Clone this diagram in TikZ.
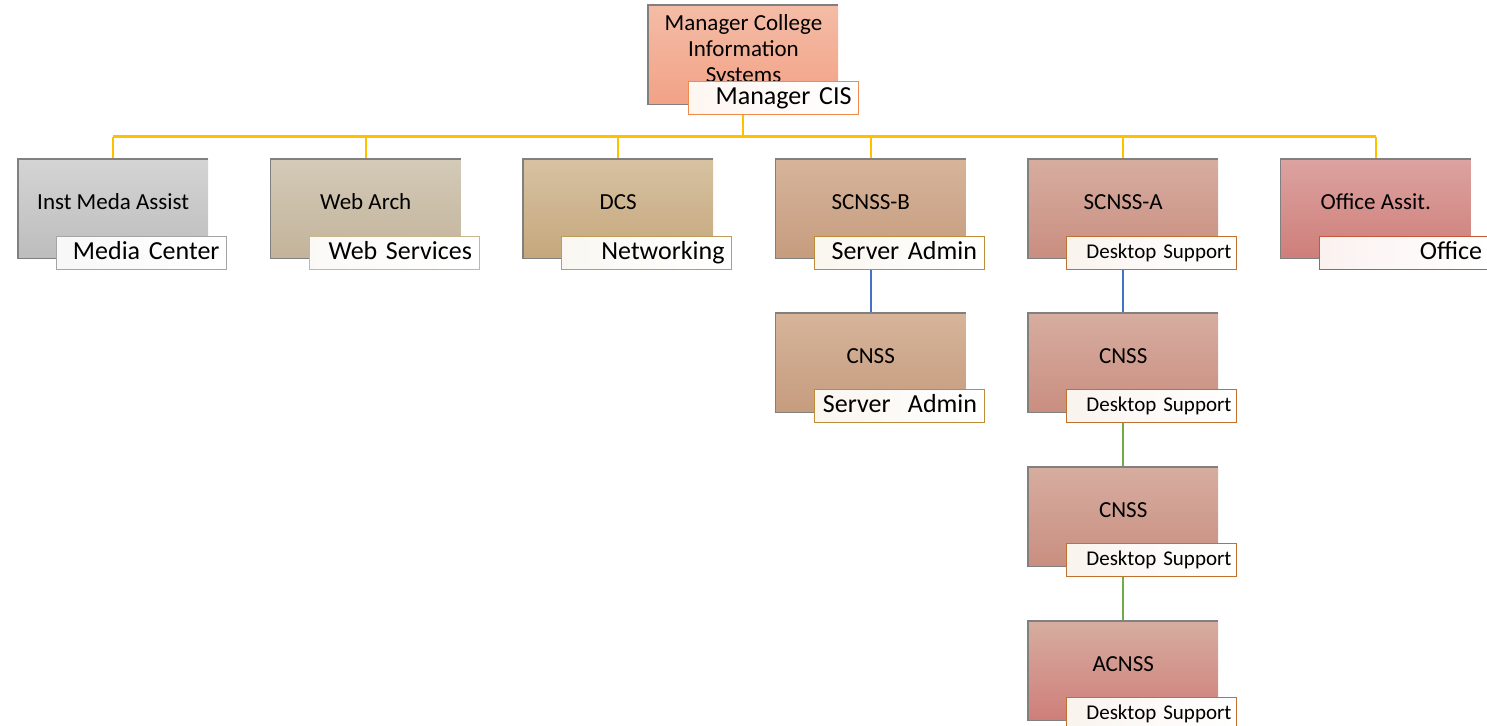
\documentclass[tikz,border=0pt]{standalone}
\usepackage{fontspec}
\setmainfont{Carlito}
\usetikzlibrary{backgrounds}

% box fills (top / bottom of the vertical shading)
\definecolor{instT}{HTML}{D4D4D4}\definecolor{instB}{HTML}{BDBDBD}
\definecolor{webT}{HTML}{D3CAB8}\definecolor{webB}{HTML}{C3B39A}
\definecolor{dcsT}{HTML}{D6C2A2}\definecolor{dcsB}{HTML}{C6A77C}
\definecolor{srvT}{HTML}{D6B49A}\definecolor{srvB}{HTML}{C69C7E}
\definecolor{dskT}{HTML}{D6ADA0}\definecolor{dskB}{HTML}{C98E80}
\definecolor{offT}{HTML}{DCA3A0}\definecolor{offB}{HTML}{CF7E7A}
\definecolor{mgrT}{HTML}{F4BCA6}\definecolor{mgrB}{HTML}{F2A286}
% tag borders
\definecolor{tagGray}{HTML}{A5A5A5}
\definecolor{tagWeb}{HTML}{C9B78F}
\definecolor{tagNet}{HTML}{BC9E5A}
\definecolor{tagSrv}{HTML}{BE8B38}
\definecolor{tagDsk}{HTML}{C0702F}
\definecolor{tagOff}{HTML}{C4583A}
\definecolor{tagMgr}{HTML}{F28A4C}
% connectors
\definecolor{busYellow}{HTML}{FFC000}
\definecolor{linkBlue}{HTML}{4472C4}
\definecolor{linkGreen}{HTML}{70AD47}
\definecolor{edgeGray}{HTML}{808080}

\tikzset{
  orgbox/.style 2 args={rectangle, anchor=north west, minimum width=190pt,
    minimum height=99pt, inner sep=0pt, top color=#1, bottom color=#2,
    font=\fontsize{23}{27}\selectfont, text height=16pt, text depth=14pt},
  tagbox/.style={rectangle, anchor=north west, minimum width=170pt,
    minimum height=33pt, inner xsep=7pt, inner ysep=0pt, text width=156pt,
    align=right, draw=#1, line width=1pt, left color=white!92!#1, right color=white,
    font=\fontsize{26}{30}\selectfont, text height=18pt, text depth=5pt},
  smalltag/.style={tagbox=#1, inner xsep=5pt, text width=160pt,
    font=\fontsize{21}{25}\selectfont, text height=15pt, text depth=5pt},
  boxedge/.style={draw=edgeGray, line width=1.3pt},
  bus/.style={draw=busYellow, line width=2.2pt},
  bluelink/.style={draw=linkBlue, line width=2pt},
  greenlink/.style={draw=linkGreen, line width=2pt},
}

\begin{document}
\begin{tikzpicture}[x=1pt,y=-1pt]
\useasboundingbox (0,0) rectangle (1487,725);

% boxes
\node[orgbox={mgrT}{mgrB}] (top) at (648,5) {};
\node[align=center, font=\fontsize{23}{26}\selectfont, inner sep=0pt, anchor=base]
  (toptext) at (743.5,82) {Manager College\\Information\\Systems};

\node[orgbox={instT}{instB}] (b1) at (18,159) {Inst Meda Assist};
\node[orgbox={webT}{webB}]   (b2) at (270.5,159) {Web Arch};
\node[orgbox={dcsT}{dcsB}]   (b3) at (523,159) {DCS};
\node[orgbox={srvT}{srvB}]   (b4) at (775.5,159) {SCNSS-B};
\node[orgbox={dskT}{dskB}]   (b5) at (1028,159) {SCNSS-A};
\node[orgbox={offT}{offB}]   (b6) at (1280.5,159) {Office Assit.};

\node[orgbox={srvT}{srvB}]   (c4) at (775.5,313) {CNSS};
\node[orgbox={dskT}{dskB}]   (c5) at (1028,313) {CNSS};
\node[orgbox={dskT}{dskB}]   (d5) at (1028,467) {CNSS};
\node[orgbox={dskT}{offB}]   (e5) at (1028,621) {ACNSS};

% box outlines: left, top and bottom sides
\foreach \n in {top,b1,b2,b3,b4,b5,b6,c4,c5,d5,e5}
  \draw[boxedge] (\n.north east) -- (\n.north west) -- (\n.south west) -- (\n.south east);

% name tags
\node[tagbox=tagMgr]  (tTop) at ([shift={(40,76)}]top.north west) {Manager CIS};
\node[tagbox=tagGray] (t1) at ([shift={(38,77)}]b1.north west) {Media Center};
\node[tagbox=tagWeb]  (t2) at ([shift={(38,77)}]b2.north west) {Web Services};
\node[tagbox=tagNet]  (t3) at ([shift={(38,77)}]b3.north west) {Networking};
\node[tagbox=tagSrv]  (t4) at ([shift={(38,77)}]b4.north west) {Server Admin};
\node[smalltag=tagDsk] (t5) at ([shift={(38,77)}]b5.north west) {Desktop Support};
\node[tagbox=tagOff]  (t6) at ([shift={(38,77)}]b6.north west) {Office};
\node[tagbox=tagSrv]  (u4) at ([shift={(38,76)}]c4.north west) {Server\ \ Admin};
\node[smalltag=tagDsk] (u5) at ([shift={(38,76)}]c5.north west) {Desktop Support};
\node[smalltag=tagDsk] (v5) at ([shift={(38,76)}]d5.north west) {Desktop Support};
\node[smalltag=tagDsk] (w5) at ([shift={(38,76)}]e5.north west) {Desktop Support};

% connectors
\coordinate (busline) at (0,136.5);
\begin{scope}[on background layer]
  \draw[bus] (top.south) -- (top.south |- busline);
  \draw[bus] (b1.north |- busline) -- (b6.north |- busline);
  \foreach \n in {b1,b2,b3,b4,b5,b6}
    \draw[bus] (\n.north |- busline) -- (\n.north);
  \draw[bluelink] (b4.south) -- (c4.north);
  \draw[bluelink] (b5.south) -- (c5.north);
  \draw[greenlink] (c5.south) -- (d5.north);
  \draw[greenlink] (d5.south) -- (e5.north);
\end{scope}
\end{tikzpicture}
\end{document}
